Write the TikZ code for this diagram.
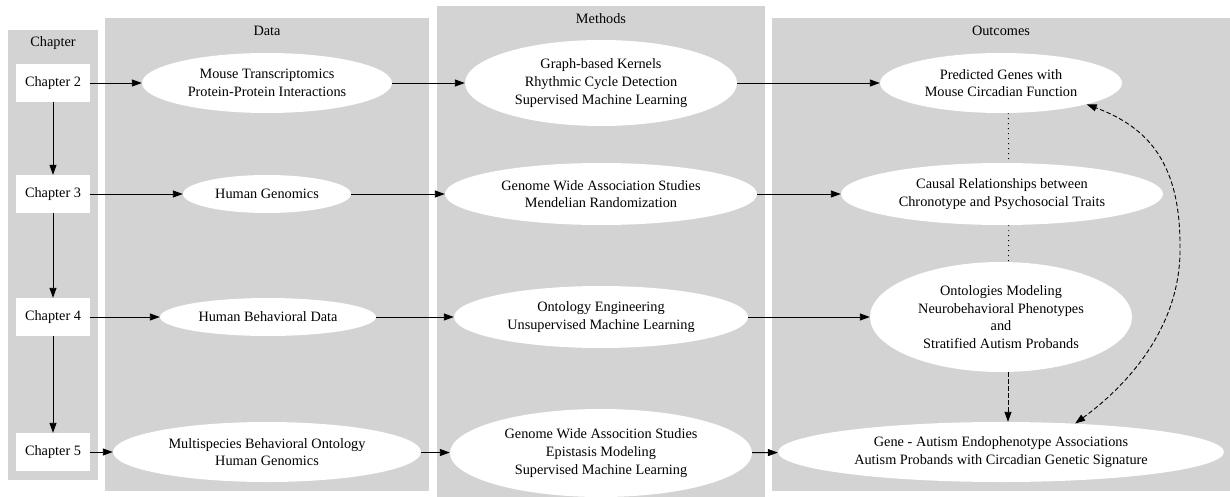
\documentclass[tikz,border=0pt]{standalone}
\usepackage{fontspec}
\setmainfont{Liberation Serif}
\usetikzlibrary{shapes.geometric,arrows.meta}
\definecolor{clustergray}{HTML}{D3D3D3}
\tikzset{gv/.tip={Triangle[length=10pt,width=7pt]}}
\begin{document}
\begin{tikzpicture}[x=1pt,y=-1pt,
  every node/.style={font=\fontsize{14.3}{17.6}\selectfont},
  cluster/.style={fill=clustergray},
  heading/.style={inner sep=0pt, anchor=center},
  chap/.style={rectangle, fill=white, minimum width=74pt, minimum height=38pt, inner sep=0pt},
  oval/.style={ellipse, fill=white, inner sep=0pt, align=center},
  flow/.style={-{gv}, line width=0.9pt},
  link/.style={line width=0.9pt, dash pattern=on 1pt off 4pt},
  hint/.style={line width=0.9pt, dash pattern=on 4.5pt off 2.5pt},
]
\useasboundingbox (0,0) rectangle (1230,497);

% cluster backgrounds
\path[cluster] (8,30) rectangle (98,480);
\path[cluster] (105,18) rectangle (429,491);
\path[cluster] (437,6) rectangle (765,497);
\path[cluster] (772,18) rectangle (1230,491);

% cluster headings
\node[heading] (hchap) at (53,43) {Chapter};
\node[heading] (hdata) at (267,31) {Data};
\node[heading] (hmeth) at (601,19) {Methods};
\node[heading] (hout) at (1001,31) {Outcomes};

% chapters
\node[chap] (c2) at (53,83) {Chapter 2};
\node[chap] (c3) at (53,194) {Chapter 3};
\node[chap] (c4) at (53,317) {Chapter 4};
\node[chap] (c5) at (53,452) {Chapter 5};

% data
\node[oval, minimum width=250pt, minimum height=60pt] (d1) at (267,83)
  {Mouse Transcriptomics\\Protein-Protein Interactions};
\node[oval, minimum width=168pt, minimum height=38pt] (d2) at (267,194)
  {Human Genomics};
\node[oval, minimum width=216pt, minimum height=38pt] (d3) at (268,317)
  {Human Behavioral Data};
\node[oval, minimum width=308pt, minimum height=60pt] (d4) at (267,452)
  {Multispecies Behavioral Ontology\\Human Genomics};

% methods
\node[oval, minimum width=272pt, minimum height=86pt] (m1) at (601,83)
  {Graph-based Kernels\\Rhythmic Cycle Detection\\Supervised Machine Learning};
\node[oval, minimum width=312pt, minimum height=62pt] (m2) at (601,194)
  {Genome Wide Association Studies\\Mendelian Randomization};
\node[oval, minimum width=294pt, minimum height=62pt] (m3) at (601,317)
  {Ontology Engineering\\Unsupervised Machine Learning};
\node[oval, minimum width=302pt, minimum height=88pt] (m4) at (601,453)
  {Genome Wide Assocition Studies\\Epistasis Modeling\\Supervised Machine Learning};

% outcomes
\node[oval, minimum width=242pt, minimum height=60pt] (o1) at (1001,83)
  {Predicted Genes with\\Mouse Circadian Function};
\node[oval, minimum width=322pt, minimum height=62pt] (o2) at (1002,194)
  {Causal Relationships between\\Chronotype and Psychosocial Traits};
\node[oval, minimum width=262pt, minimum height=110pt] (o3) at (1001,317)
  {Ontologies Modeling\\Neurobehavioral Phenotypes\\and\\Stratified Autism Probands};
\node[oval, minimum width=446pt, minimum height=60pt] (o4) at (1001,452)
  {Gene - Autism Endophenotype Associations\\Autism Probands with Circadian Genetic Signature};

% chapter sequence
\draw[flow] (c2) -- (c3);
\draw[flow] (c3) -- (c4);
\draw[flow] (c4) -- (c5);

% rows: chapter -> data -> method -> outcome
\draw[flow] (c2) -- (d1);
\draw[flow] (d1) -- (m1);
\draw[flow] (m1) -- (o1);
\draw[flow] (c3) -- (d2);
\draw[flow] (d2) -- (m2);
\draw[flow] (m2) -- (o2);
\draw[flow] (c4) -- (d3);
\draw[flow] (d3) -- (m3);
\draw[flow] (m3) -- (o3);
\draw[flow] (c5) -- (d4);
\draw[flow] (d4) -- (m4);
\draw[flow] (m4) -- (o4);

% links between outcomes
\draw[link, transform canvas={xshift=7pt}] (o1) -- (o2);
\draw[link, transform canvas={xshift=7pt}] (o2) -- (o3);
\draw[hint, -{gv}, transform canvas={xshift=7pt}] (o3) -- (o4);
\coordinate (bend) at (1180,250);
\draw[hint, {gv}-{gv}] (o4.21) .. controls (1137,378) and (1180,320) .. (bend)
  .. controls (1181,165) and (1150,128) .. (o1.-14);
\end{tikzpicture}
\end{document}
